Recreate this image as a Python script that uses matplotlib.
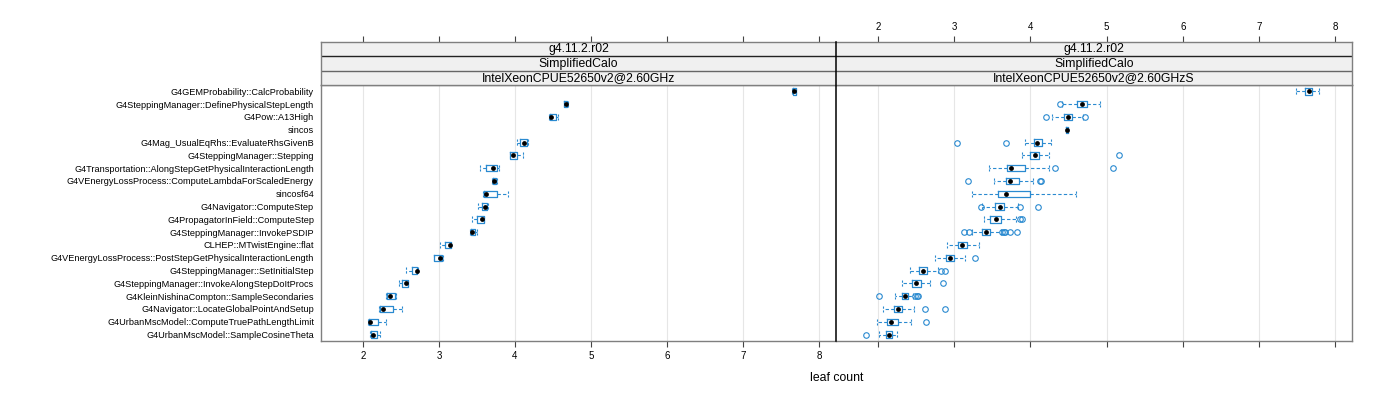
import numpy as np
import matplotlib.pyplot as plt

plt.rcParams['font.family'] = ['Liberation Sans', 'DejaVu Sans']

labels = [
    "G4GEMProbability::CalcProbability",
    "G4SteppingManager::DefinePhysicalStepLength",
    "G4Pow::A13High",
    "sincos",
    "G4Mag_UsualEqRhs::EvaluateRhsGivenB",
    "G4SteppingManager::Stepping",
    "G4Transportation::AlongStepGetPhysicalInteractionLength",
    "G4VEnergyLossProcess::ComputeLambdaForScaledEnergy",
    "sincosf64",
    "G4Navigator::ComputeStep",
    "G4PropagatorInField::ComputeStep",
    "G4SteppingManager::InvokePSDIP",
    "CLHEP::MTwistEngine::flat",
    "G4VEnergyLossProcess::PostStepGetPhysicalInteractionLength",
    "G4SteppingManager::SetInitialStep",
    "G4SteppingManager::InvokeAlongStepDoItProcs",
    "G4KleinNishinaCompton::SampleSecondaries",
    "G4Navigator::LocateGlobalPointAndSetup",
    "G4UrbanMscModel::ComputeTruePathLengthLimit",
    "G4UrbanMscModel::SampleCosineTheta",
]

strip_top = "g4.11.2.r02"
strip_mid = "SimplifiedCalo"
left_cpu = "IntelXeonCPUE52650v2@2.60GHz"
right_cpu = "IntelXeonCPUE52650v2@2.60GHzS"

nan = np.nan
# left panel (no sincos entry)
left_lo = [7.64, 4.64, 4.45, nan, 4.03, 3.93, 3.54, 3.70, 3.58, 3.51,
           3.43, 3.41, 3.01, 2.93, 2.57, 2.47, 2.31, 2.21, 2.07, 2.10]
left_q1 = [7.65, 4.65, 4.46, nan, 4.06, 3.94, 3.62, 3.71, 3.59, 3.56,
           3.50, 3.42, 3.08, 2.94, 2.64, 2.51, 2.32, 2.23, 2.08, 2.11]
left_med = [7.67, 4.67, 4.48, nan, 4.12, 3.97, 3.71, 3.73, 3.62, 3.61,
            3.57, 3.43, 3.14, 3.02, 2.71, 2.57, 2.36, 2.27, 2.10, 2.14]
left_q3 = [7.69, 4.69, 4.54, nan, 4.16, 4.02, 3.76, 3.75, 3.76, 3.63,
           3.59, 3.47, 3.16, 3.04, 2.71, 2.60, 2.42, 2.39, 2.20, 2.18]
left_hi = [7.70, 4.70, 4.57, nan, 4.17, 4.10, 3.79, 3.76, 3.91, 3.64,
           3.59, 3.50, 3.16, 3.05, 2.73, 2.60, 2.43, 2.51, 2.31, 2.22]

# right panel
right_lo = [7.49, 4.42, 4.29, 4.47, 3.93, 3.89, 3.46, 3.52, 3.24, 3.36,
            3.39, 3.24, 2.91, 2.75, 2.42, 2.32, 2.23, 2.07, 1.99, 2.02]
right_q1 = [7.60, 4.61, 4.44, 4.47, 4.05, 4.00, 3.70, 3.68, 3.57, 3.54,
            3.47, 3.37, 3.05, 2.89, 2.54, 2.45, 2.32, 2.21, 2.12, 2.11]
right_med = [7.65, 4.68, 4.50, 4.48, 4.09, 4.06, 3.75, 3.73, 3.68, 3.60,
             3.55, 3.42, 3.10, 2.94, 2.59, 2.50, 2.36, 2.26, 2.17, 2.14]
right_q3 = [7.70, 4.74, 4.54, 4.49, 4.15, 4.11, 3.93, 3.85, 4.00, 3.66,
            3.61, 3.47, 3.17, 3.00, 2.64, 2.56, 2.39, 2.32, 2.26, 2.18]
right_hi = [7.79, 4.92, 4.69, 4.49, 4.27, 4.25, 4.25, 4.03, 4.60, 3.84,
            3.81, 3.61, 3.32, 3.14, 2.79, 2.68, 2.46, 2.47, 2.43, 2.25]
right_out = [[], [4.39], [4.20, 4.72], [], [3.04, 3.68], [5.16], [4.32, 5.08],
             [3.18, 4.13, 4.14], [], [3.35, 3.86, 4.10], [3.86, 3.89],
             [3.13, 3.19, 3.63, 3.65, 3.67, 3.73, 3.83], [], [3.28],
             [2.83, 2.88], [2.85], [2.02, 2.49, 2.51, 2.53], [2.62, 2.88],
             [2.63], [1.85]]

ticks = [2, 3, 4, 5, 6, 7, 8]
blue = '#2a8ad0'
W, H = 1400, 400


def box(x0, y0, x1, y1):
    return [x0 / W, 1 - y1 / H, (x1 - x0) / W, (y1 - y0) / H]


def draw_panel(ax, lo, q1, med, q3, hi, out):
    stats, pos = [], []
    for i in range(len(labels)):
        if np.isnan(med[i]):
            continue
        stats.append(dict(whislo=lo[i], q1=q1[i], med=med[i], q3=q3[i],
                          whishi=hi[i], fliers=out[i]))
        pos.append(i + 1)
    ax.bxp(stats, positions=pos, widths=0.5, capwidths=0.5,
           orientation='horizontal', showfliers=True,
           boxprops=dict(color=blue, lw=0.9),
           whiskerprops=dict(color=blue, lw=0.8, ls=(0, (3, 2))),
           capprops=dict(color=blue, lw=0.8, ls=(0, (2, 1.5))),
           flierprops=dict(marker='o', mfc='none', mec=blue, ms=4, mew=0.8),
           medianprops=dict(lw=0))
    ax.scatter([med[p - 1] for p in pos], pos, s=12, color='black', zorder=5,
               linewidths=0)
    ax.set_xlim(1.45, 8.22)
    ax.set_ylim(len(labels) + 0.5, 0.5)
    ax.set_xticks(ticks)
    ax.grid(axis='x', color='#e6e6e6', lw=0.8)
    ax.set_axisbelow(True)
    for s in ax.spines.values():
        s.set_color('#7f7f7f')
        s.set_linewidth(1.0)
    ax.tick_params(axis='x', direction='out', length=4.5, width=0.8,
                   color='#444444', labelsize=7, pad=3)


def draw_strip(ax, cpu, show_labels):
    ax.set_xlim(1.45, 8.22)
    ax.set_ylim(0, 3)
    ax.axhspan(0, 3, color='#f0f0f0', zorder=0)
    ax.axhline(1, color='#666666', lw=1.0)
    ax.axhline(2, color='#222222', lw=1.0)
    for yy, txt in [(2.5, strip_top), (1.5, strip_mid), (0.5, cpu)]:
        ax.text(0.5, yy / 3, txt, transform=ax.transAxes,
                ha='center', va='center', fontsize=8.8)
    ax.set_yticks([])
    ax.xaxis.tick_top()
    ax.set_xticks(ticks)
    ax.tick_params(axis='x', direction='out', length=4.5, width=0.8,
                   color='#444444', labelsize=7, pad=3,
                   labeltop=show_labels)
    for s in ax.spines.values():
        s.set_color('#7f7f7f')
        s.set_linewidth(1.0)


fig = plt.figure(figsize=(14, 4), dpi=100)

axl = fig.add_axes(box(321, 85, 836, 341))
axr = fig.add_axes(box(836, 85, 1352, 341))
sl = fig.add_axes(box(321, 42, 836, 85))
sr = fig.add_axes(box(836, 42, 1352, 85))

draw_panel(axl, left_lo, left_q1, left_med, left_q3, left_hi, [[] for _ in labels])
draw_panel(axr, right_lo, right_q1, right_med, right_q3, right_hi, right_out)

axl.set_yticks(range(1, len(labels) + 1))
axl.set_yticklabels(labels, fontsize=6.6)
axl.tick_params(axis='y', length=0, pad=5)
axr.set_yticks([])
axr.tick_params(axis='x', labelbottom=False)

draw_strip(sl, left_cpu, False)
draw_strip(sr, right_cpu, True)

# black divider between the two panels
for ax in (axl, sl):
    ax.spines['right'].set_visible(False)
for ax in (axr, sr):
    ax.spines['left'].set_visible(False)
fig.add_artist(plt.Line2D([836 / W, 836 / W], [1 - 341 / H, 1 - 42 / H],
                          color='black', lw=1.1, zorder=10))

fig.text(837 / W, 1 - 378 / H, 'leaf count', ha='center', va='center', fontsize=8.8)

fig.savefig('out.png', dpi=100)
